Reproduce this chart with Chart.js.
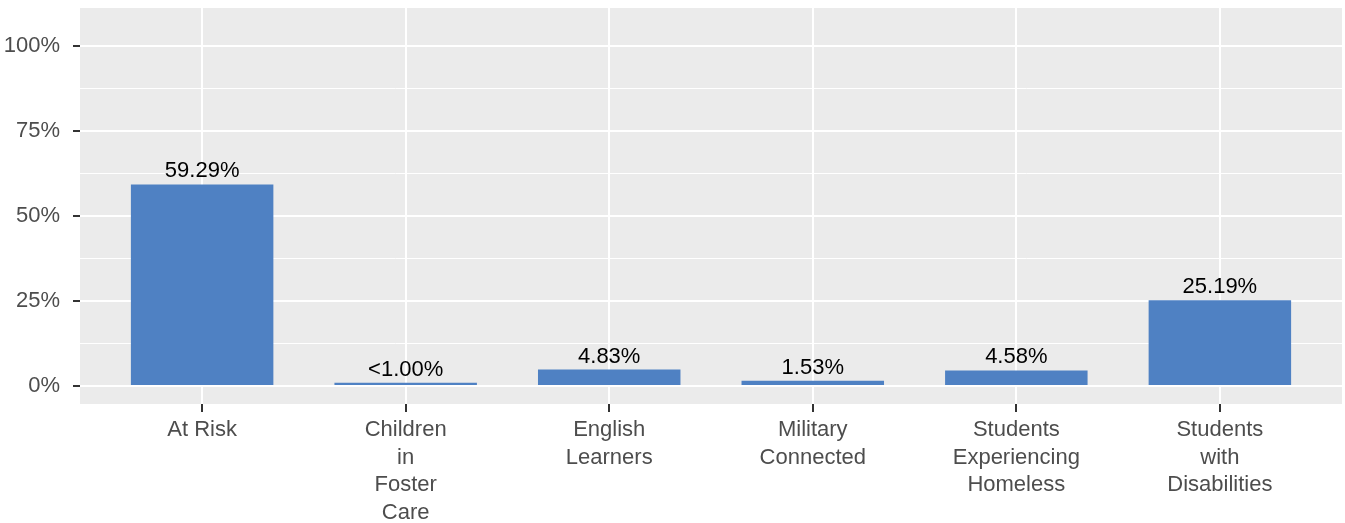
<!DOCTYPE html>
<html>
<head>
<meta charset="utf-8">
<script src="https://cdn.jsdelivr.net/npm/chart.js@4"></script>
<style>
  html, body { margin: 0; padding: 0; background: #ffffff; }
  #wrap { width: 1345px; height: 523px; position: relative; }
</style>
</head>
<body>
<div id="wrap"><canvas id="c" width="1345" height="523"></canvas></div>
<script>
// ---- data ----
const categories = [
  ["At Risk"],
  ["Children", "in", "Foster", "Care"],
  ["English", "Learners"],
  ["Military", "Connected"],
  ["Students", "Experiencing", "Homeless"],
  ["Students", "with", "Disabilities"]
];
const values = [59.29, 0.95, 4.83, 1.53, 4.58, 25.19];
const valueLabels = ["59.29%", "<1.00%", "4.83%", "1.53%", "4.58%", "25.19%"];
const yMajorTicks = [0, 25, 50, 75, 100];
const yMinorTicks = [12.5, 37.5, 62.5, 87.5];

const FONT = "'Liberation Sans', Arial, sans-serif";
const FSIZE = 22;

const points = values.map((v, i) => ({ x: i + 1, y: v }));

const panelBg = {
  id: 'panelBg',
  beforeDraw(chart) {
    const a = chart.chartArea, ctx = chart.ctx;
    ctx.save();
    ctx.fillStyle = '#EBEBEB';
    ctx.fillRect(a.left, a.top, a.right - a.left, a.bottom - a.top);
    ctx.restore();
  }
};

const valueLabelPlugin = {
  id: 'valueLabels',
  afterDatasetsDraw(chart) {
    const ctx = chart.ctx;
    const meta = chart.getDatasetMeta(0);
    ctx.save();
    ctx.font = FSIZE + 'px ' + FONT;
    ctx.fillStyle = '#000000';
    ctx.textAlign = 'center';
    ctx.textBaseline = 'alphabetic';
    meta.data.forEach((bar, i) => {
      ctx.fillText(valueLabels[i], bar.x, bar.y - 7);
    });
    ctx.restore();
  }
};

function zeroPad(axis) {
  axis.paddingTop = 0; axis.paddingBottom = 0;
  axis.paddingLeft = 0; axis.paddingRight = 0;
}

new Chart(document.getElementById('c'), {
  type: 'bar',
  data: {
    datasets: [{
      data: points,
      backgroundColor: '#4F81C3',
      borderWidth: 0,
      barPercentage: 0.7,
      categoryPercentage: 1.0
    }]
  },
  options: {
    responsive: false,
    animation: false,
    events: [],
    layout: { padding: { top: 8, right: 3, left: 0, bottom: 0 } },
    plugins: { legend: { display: false }, tooltip: { enabled: false } },
    scales: {
      x: {
        type: 'linear',
        offset: false,
        min: 0.4,
        max: 6.6,
        afterBuildTicks(axis) {
          axis.ticks = categories.map((c, i) => ({ value: i + 1 }));
        },
        afterFit(axis) { axis.height = 119; zeroPad(axis); },
        border: { display: false },
        grid: {
          offset: false,
          color: '#FFFFFF',
          lineWidth: 2,
          tickColor: '#333333',
          tickLength: 8,
          tickWidth: 2
        },
        ticks: {
          autoSkip: false,
          maxRotation: 0,
          minRotation: 0,
          padding: 4,
          color: '#4D4D4D',
          font: { family: FONT, size: FSIZE, lineHeight: 1.26 },
          callback(value) { return categories[Math.round(value) - 1]; }
        }
      },
      y: {
        type: 'linear',
        min: -5.3,
        max: 111.2,
        afterBuildTicks(axis) {
          axis.ticks = yMajorTicks.concat(yMinorTicks).sort((a, b) => a - b).map(v => ({ value: v }));
        },
        afterFit(axis) { axis.width = 80; zeroPad(axis); },
        border: { display: false },
        grid: {
          color: '#FFFFFF',
          lineWidth(ctx) { return yMajorTicks.includes(ctx.tick.value) ? 2 : 1; },
          tickColor(ctx) { return yMajorTicks.includes(ctx.tick.value) ? '#333333' : 'rgba(0,0,0,0)'; },
          tickLength: 7,
          tickWidth: 2
        },
        ticks: {
          autoSkip: false,
          padding: 13,
          color: '#4D4D4D',
          font: { family: FONT, size: FSIZE },
          callback(value) { return yMajorTicks.includes(value) ? value + '%' : ''; }
        }
      }
    }
  },
  plugins: [panelBg, valueLabelPlugin]
});
</script>
</body>
</html>
